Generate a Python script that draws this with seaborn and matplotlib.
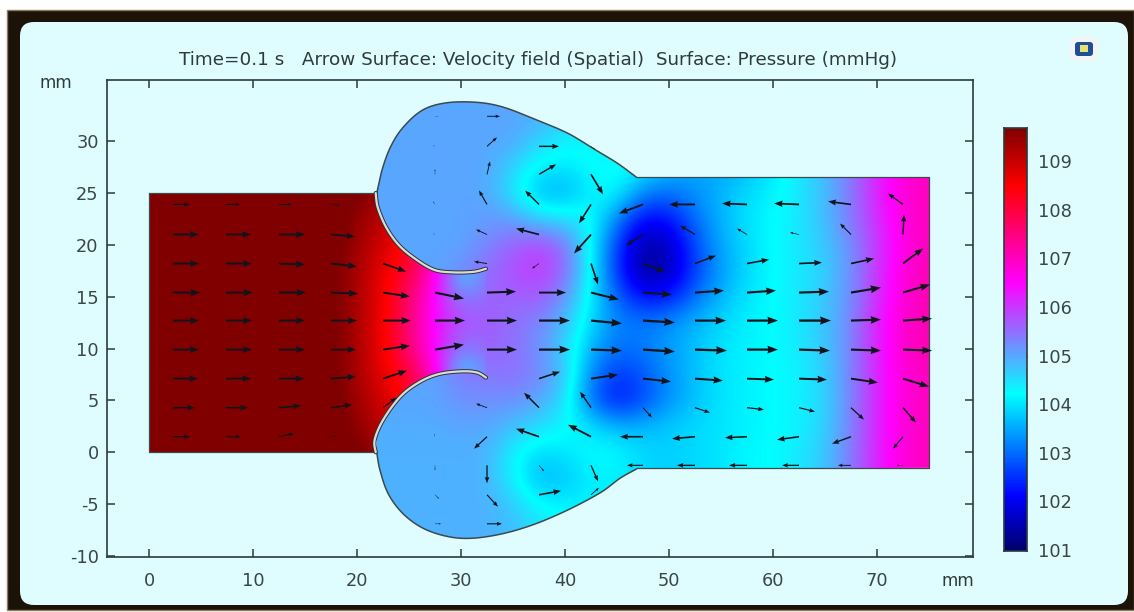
import numpy as np
import matplotlib
matplotlib.use('Agg')
import matplotlib.pyplot as plt
import seaborn as sns
from matplotlib.colors import LinearSegmentedColormap
from matplotlib.patches import FancyBboxPatch, PathPatch, Rectangle
from matplotlib.path import Path

nan = np.nan
W, H = 1134, 612

# pressure (mmHg), mm grid, top row first
inlet_x = np.arange(0, 35.1, 2.5)
inlet_y = np.arange(25, -0.1, -2.5)
inlet_p = [
    [109.9] * 8 + [109.8, 109.4, 108.9, 108.0, 107.0, 106.0, 105.5],
    [109.9] * 8 + [109.5, 109.1, 108.5, 107.5, 106.5, 105.8, 105.5],
    [109.9] * 8 + [109.4, 108.9, 108.3, 107.2, 106.0, 105.6, 105.6],
    [109.9] * 7 + [109.8, 109.3, 108.7, 108.1, 106.8, 104.2, 105.4, 105.8],
    [109.9] * 7 + [109.8, 109.3, 108.6, 107.7, 106.4, 105.3, 105.6, 105.6],
    [109.9] * 7 + [109.8, 109.3, 108.6, 107.6, 106.4, 105.8, 105.7, 105.5],
    [109.9] * 7 + [109.8, 109.3, 108.6, 107.6, 106.4, 105.4, 105.6, 105.5],
    [109.9] * 7 + [109.8, 109.3, 108.7, 108.1, 106.8, 104.2, 105.4, 105.5],
    [109.9] * 8 + [109.4, 108.9, 108.3, 107.2, 106.0, 105.2, 105.2],
    [109.9] * 8 + [109.5, 109.1, 108.5, 107.5, 106.5, 105.2, 105.0],
    [109.9] * 8 + [109.8, 109.4, 108.9, 108.0, 107.0, 105.5, 105.0],
]

main_x = np.arange(20, 75.1, 2.5)
main_y = np.arange(35, -10.1, -2.5)
main_p = [
    [105.0, 105.0, 105.0, 105.0, 105.0, 105.0, 105.0, 105.0, 104.9, 104.7, 104.5, 104.3, 104.0, 103.7, 103.6, 103.7, 104.0, 104.4, 104.8, 105.4, 106.2, 106.8, 107.0],
    [105.0, 105.0, 105.0, 105.0, 105.0, 105.0, 105.0, 104.95, 104.7, 104.5, 104.3, 104.2, 103.9, 103.7, 103.6, 103.7, 104.0, 104.4, 104.8, 105.4, 106.2, 106.8, 107.0],
    [105.0, 105.0, 105.0, 105.0, 105.0, 105.0, 105.0, 104.6, 104.3, 104.3, 104.2, 104.1, 103.8, 103.6, 103.5, 103.7, 104.0, 104.4, 104.8, 105.4, 106.2, 106.8, 107.0],
    [105.0, 105.0, 105.0, 105.0, 105.0, 105.0, 104.6, 104.1, 104.0, 104.2, 104.3, 104.1, 103.7, 103.5, 103.5, 103.7, 104.0, 104.4, 104.8, 105.4, 106.2, 106.8, 107.0],
    [105.0, 105.0, 105.0, 105.0, 105.0, 105.0, 104.4, 103.6, 103.5, 104.1, 104.2, 103.2, 103.0, 103.3, 103.6, 103.9, 104.1, 104.4, 104.8, 105.4, 106.2, 106.8, 107.0],
    [105.0, 105.0, 105.0, 105.0, 105.0, 105.1, 105.1, 104.6, 104.5, 104.3, 103.2, 102.1, 102.2, 103.0, 103.6, 104.0, 104.2, 104.4, 104.8, 105.4, 106.1, 106.8, 107.0],
    [105.0, 105.0, 105.0, 105.0, 105.0, 105.3, 105.6, 105.9, 105.5, 104.2, 102.6, 101.4, 101.6, 102.7, 103.5, 103.9, 104.2, 104.4, 104.7, 105.2, 106.0, 106.7, 107.0],
    [105.0, 105.0, 105.0, 105.0, 105.2, 105.5, 105.8, 106.0, 105.6, 104.2, 102.5, 101.3, 101.5, 102.6, 103.4, 103.9, 104.2, 104.4, 104.6, 105.2, 106.0, 106.8, 107.1],
    [105.0, 105.0, 105.0, 105.0, 105.4, 105.6, 105.6, 105.7, 105.2, 104.1, 102.9, 102.2, 102.3, 103.0, 103.6, 104.0, 104.2, 104.4, 104.7, 105.2, 106.1, 106.8, 107.1],
    [105.0, 105.0, 105.0, 105.0, 105.8, 105.7, 105.5, 105.3, 104.8, 103.9, 103.2, 103.1, 103.3, 103.6, 103.9, 104.1, 104.2, 104.4, 104.7, 105.3, 106.2, 106.9, 107.1],
    [105.0, 105.0, 105.0, 105.0, 105.5, 105.6, 105.5, 105.2, 104.6, 103.6, 103.0, 103.1, 103.4, 103.7, 104.0, 104.1, 104.2, 104.4, 104.7, 105.3, 106.2, 106.9, 107.1],
    [105.0, 105.0, 105.0, 105.0, 105.4, 105.4, 105.5, 105.3, 104.8, 103.2, 102.5, 102.8, 103.3, 103.7, 104.0, 104.1, 104.2, 104.3, 104.6, 105.3, 106.2, 106.8, 107.0],
    [105.0, 105.0, 105.0, 105.0, 105.2, 105.2, 105.2, 105.0, 104.5, 103.0, 102.2, 102.7, 103.3, 103.7, 104.0, 104.1, 104.2, 104.3, 104.6, 105.3, 106.2, 106.8, 107.0],
    [104.95, 104.95, 104.95, 104.95, 105.0, 105.0, 104.8, 104.5, 104.3, 104.0, 103.6, 103.6, 103.8, 103.9, 104.0, 104.1, 104.2, 104.3, 104.6, 105.3, 106.2, 106.8, 107.0],
    [104.9, 104.9, 104.9, 104.9, 104.9, 104.9, 104.3, 103.9, 104.0, 104.2, 104.2, 103.9, 103.8, 103.9, 104.0, 104.15, 104.2, 104.4, 104.7, 105.4, 106.2, 106.8, 107.0],
    [104.9, 104.9, 104.9, 104.9, 104.9, 104.9, 104.3, 103.6, 103.7, 104.1, 104.1, 103.9, 103.8, 103.9, 104.0, 104.15, 104.2, 104.4, 104.7, 105.4, 106.2, 106.8, 107.0],
    [104.9, 104.9, 104.9, 104.9, 104.9, 104.9, 104.7, 104.2, 104.1, 104.1, 104.0, 104.0, 104.0, 104.0, 104.0, 104.1, 104.2, 104.4, 104.7, 105.4, 106.2, 106.8, 107.0],
    [104.9, 104.9, 104.9, 104.9, 104.9, 104.9, 104.8, 104.5, 104.3, 104.2, 104.1, 104.0, 104.0, 104.0, 104.0, 104.1, 104.2, 104.4, 104.7, 105.4, 106.2, 106.8, 107.0],
    [104.9, 104.9, 104.9, 104.9, 104.9, 104.9, 104.8, 104.5, 104.3, 104.2, 104.1, 104.0, 104.0, 104.0, 104.0, 104.1, 104.2, 104.4, 104.7, 105.4, 106.2, 106.8, 107.0],
]

# velocity arrows: tails sit on this grid
arrow_x = [2.3, 7.4, 12.5, 17.5, 22.5, 27.5, 32.5, 37.5, 42.5, 47.5, 52.5, 57.5, 62.5, 67.5, 72.5]
arrow_y = [32.4, 29.5, 26.8, 23.9, 21.0, 18.2, 15.4, 12.7, 9.9, 7.1, 4.3, 1.5, -1.26, -4.1, -6.9]
arrow_u = [
    [nan, nan, nan, nan, nan, 3, 13, nan, nan, nan, nan, nan, nan, nan, nan],
    [nan, nan, nan, nan, nan, -2, 10, 20, 4, nan, nan, nan, nan, nan, nan],
    [nan, nan, nan, nan, nan, 0, 3, 17, 12, nan, nan, nan, nan, nan, nan],
    [17, 14, 13, 9, nan, -2, -8, -14, -12, -24, -26, -25, -25, -23, -15],
    [26, 25, 26, 24, nan, -2, -11, -23, -17, -17, -15, -10, -9, -11, 1],
    [26, 26, 26, 26, 23, nan, -13, -7, 7, 22, 21, 22, 23, 23, 20],
    [27, 27, 27, 27, 27, 29, 29, 27, 28, 29, 29, 29, 30, 30, 27],
    [26, 26, 26, 26, 28, 30, 30, 31, 31, 32, 31, 31, 32, 30, 29],
    [26, 26, 26, 25, 27, 29, 30, 31, 31, 32, 32, 31, 31, 30, 29],
    [25, 25, 25, 25, 24, nan, nan, 21, 27, 28, 28, 27, 28, 27, 26],
    [22, 22, 22, 21, 13, 0, -11, -15, -11, 9, 15, 17, 16, 13, 13],
    [17, 15, 15, 6, nan, -1, -13, -23, -23, -23, -23, -22, -22, -19, -10],
    [nan, nan, nan, nan, nan, 0, 0, 5, 7, -16, -18, -18, -17, -13, -6],
    [nan, nan, nan, nan, nan, 4, 11, 22, 8, nan, nan, nan, nan, nan, nan],
    [nan, nan, nan, nan, nan, 6, 15, nan, nan, nan, nan, nan, nan, nan, nan],
]
arrow_v = [
    [nan, nan, nan, nan, nan, 0, 0, nan, nan, nan, nan, nan, nan, nan, nan],
    [nan, nan, nan, nan, nan, 1, 9, 0, -3, nan, nan, nan, nan, nan, nan],
    [nan, nan, nan, nan, nan, 5, 13, 10, -20, nan, nan, nan, nan, nan, nan],
    [0, 0, 0, -1, nan, 3, 14, 14, -19, -9, 0, 1, 1, 3, 11],
    [0, 0, 0, -2, nan, 1, 5, 6, -19, -11, 9, 6, 2, 11, 20],
    [0, 0, -1, -3, -8, nan, 2, -5, -21, -8, 8, 4, 1, 5, 15],
    [0, 0, 0, -1, -4, -6, 1, 0, -7, -2, 2, 2, 1, 5, 8],
    [0, 0, 0, 0, 0, 0, 0, 0, -3, -2, 0, 0, 0, 1, 2],
    [0, 0, 0, 0, 4, 5, 0, 0, -1, -2, -1, 0, -1, -1, -1],
    [0, 0, 0, 2, 8, nan, nan, 7, 4, -3, -2, -1, -1, -4, -8],
    [0, 0, 2, 3, 10, 1, 4, 15, 16, -10, -5, -2, -4, -12, -15],
    [0, 0, 3, 1, nan, 3, -12, 8, 12, 0, -2, -1, -3, -7, -12],
    [nan, nan, nan, nan, nan, -5, -18, -6, -16, 0, 0, 0, 0, 0, 0],
    [nan, nan, nan, nan, nan, -4, -12, 4, 7, nan, nan, nan, nan, nan, nan],
    [nan, nan, nan, nan, nan, 0, 0, nan, nan, nan, nan, nan, nan, nan, nan],
]

# geometry outline in mm
top_wall_x = [21.9, 22.4, 23.2, 24.4, 26.3, 28.6, 31.5, 34.0, 36.9, 40.2, 42.7, 45.0, 46.9]
top_wall_y = [25.0, 27.2, 29.4, 31.3, 33.0, 33.7, 33.75, 33.3, 32.2, 30.8, 29.3, 27.9, 26.5]
low_wall_x = [21.9, 22.2, 23.0, 24.4, 26.3, 28.6, 30.9, 33.8, 36.9, 40.2, 43.4, 45.3, 46.9]
low_wall_y = [0.0, -1.7, -4.0, -5.9, -7.3, -8.1, -8.3, -7.9, -7.0, -5.6, -3.9, -2.5, -1.6]
top_leaf_x = [21.8, 22.0, 22.8, 24.0, 25.6, 27.4, 29.2, 31.2, 32.4]
top_leaf_y = [25.0, 23.6, 21.7, 20.0, 18.65, 17.6, 17.35, 17.4, 17.7]
low_leaf_x = [21.8, 21.7, 22.5, 24.1, 25.8, 27.7, 29.9, 31.5, 32.4]
low_leaf_y = [0.0, 1.2, 3.1, 5.3, 6.65, 7.5, 7.8, 7.7, 7.2]

x_ticks = [0, 10, 20, 30, 40, 50, 60, 70]
y_ticks = [-10, -5, 0, 5, 10, 15, 20, 25, 30]
bar_ticks = [101, 102, 103, 104, 105, 106, 107, 108, 109]
p_min, p_max = 100.98, 109.68
cmap_stops = [(100.98, '#00006e'), (102.1, '#0000ff'), (104.2, '#00ffff'),
              (106.5, '#ff00ff'), (108.5, '#ff0000'), (109.68, '#800000')]


def smooth(xs, ys, n=12):
    # catmull-rom through the outline points, only to round the wall
    pts = np.column_stack([xs, ys])
    pts = np.vstack([pts[0], pts, pts[-1]])
    out = []
    for i in range(1, len(pts) - 2):
        p0, p1, p2, p3 = pts[i - 1], pts[i], pts[i + 1], pts[i + 2]
        for t in np.linspace(0, 1, n, endpoint=False):
            out.append(0.5 * (2 * p1 + (p2 - p0) * t + (2 * p0 - 5 * p1 + 4 * p2 - p3) * t ** 2
                              + (3 * p1 - p0 - 3 * p2 + p3) * t ** 3))
    out.append(pts[-1])
    return np.array(out)


sns.set_theme(style='ticks')
plt.rcParams['font.family'] = 'DejaVu Sans'
plt.rcParams['axes.unicode_minus'] = False
ink = '#2b3a3c'

cmap = LinearSegmentedColormap.from_list(
    'comsol', [((v - p_min) / (p_max - p_min), c) for v, c in cmap_stops], N=512)

fig = plt.figure(figsize=(W / 100, H / 100), dpi=100, facecolor='white')

# screenshot frame
bg = fig.add_axes([0, 0, 1, 1])
bg.set_xlim(0, W)
bg.set_ylim(H, 0)
bg.axis('off')
bg.add_patch(Rectangle((7, 10), W - 7, H - 12, fc='#1c1208', ec='#8d7a60', lw=1))
bg.add_patch(FancyBboxPatch((32, 34), 1084, 559, boxstyle='round,pad=12,rounding_size=14', fc='#dffdff', ec='none'))
# window icon
bg.add_patch(FancyBboxPatch((1074, 41), 20, 16, boxstyle='round,pad=4,rounding_size=6', fc='#f2f4f6', ec='none'))
bg.add_patch(FancyBboxPatch((1077, 44), 14, 10, boxstyle='round,pad=2,rounding_size=3', fc='#1d4f96', ec='none'))
bg.add_patch(Rectangle((1080, 45), 8, 7, fc='#e8e070', ec='none'))

ax = fig.add_axes([107 / W, 1 - 557 / H, 866 / W, 477 / H], facecolor='none')
xlim = (-4.04, 79.23)
ylim = (-10.1, 35.9)

top_wall = smooth(top_wall_x, top_wall_y)
low_wall = smooth(low_wall_x, low_wall_y)
top_leaf = smooth(top_leaf_x, top_leaf_y)
low_leaf = smooth(low_leaf_x, low_leaf_y)

main_poly = np.vstack([top_wall, [[75, 26.5], [75, -1.5]], low_wall[::-1]])
inlet_poly = np.vstack([[[0, 0]], low_leaf, top_leaf[::-1], [[0, 25]]])

for px, py, field, poly in [(main_x, main_y, main_p, main_poly), (inlet_x, inlet_y, inlet_p, inlet_poly)]:
    clip = PathPatch(Path(poly, closed=False), fc='none', ec='none', transform=ax.transData)
    ax.add_patch(clip)
    im = ax.imshow(field, cmap=cmap, vmin=p_min, vmax=p_max, interpolation='bicubic', aspect='auto', origin='upper',
                   extent=(px[0] - 1.25, px[-1] + 1.25, py[-1] - 1.25, py[0] + 1.25), zorder=1)
    im.set_clip_path(clip)

# walls
edge = '#3d4a4a'
for pts in [top_wall, low_wall]:
    sns.lineplot(x=pts[:, 0], y=pts[:, 1], sort=False, estimator=None, color=edge, lw=1.1, ax=ax, zorder=3)
for xs, ys in [([21.8, 0, 0, 21.8], [25, 25, 0, 0]),
               ([46.9, 75, 75, 46.9], [26.5, 26.5, -1.5, -1.5])]:
    sns.lineplot(x=xs, y=ys, sort=False, estimator=None, color=edge, lw=0.9, ax=ax, zorder=3)
# leaflets
for pts in [top_leaf, low_leaf]:
    sns.lineplot(x=pts[:, 0], y=pts[:, 1], sort=False, estimator=None, color='#2e3434', lw=3.0, ax=ax, zorder=4)
    sns.lineplot(x=pts[:, 0], y=pts[:, 1], sort=False, estimator=None, color='#dcdcd6', lw=1.6, ax=ax, zorder=5)

# arrows, every one scales with its length like in the solver plot
gx, gy = np.meshgrid(arrow_x, arrow_y)
u = np.array(arrow_u, dtype=float)
v = np.array(arrow_v, dtype=float)
keep = ~np.isnan(u)
ax.quiver(gx[keep], gy[keep], u[keep], v[keep], angles='xy', scale_units='xy', scale=10.4, units='dots',
          width=2.4, headwidth=3.6, headlength=4.8, headaxislength=4.4, minshaft=2.9, minlength=0,
          color='#10141c', zorder=6)

ax.set_xlim(*xlim)
ax.set_ylim(*ylim)
ax.set_xticks(x_ticks)
ax.set_yticks(y_ticks)
ax.tick_params(direction='in', length=6, width=1.1, color=ink, top=True, right=True, labelsize=12.8, labelcolor='#3a4648')
ax.tick_params(axis='x', pad=11)
ax.tick_params(axis='y', pad=6)
ax.set_xlabel('')
ax.set_ylabel('')
for s in ax.spines.values():
    s.set_color(ink)
    s.set_linewidth(1.2)

fig.text(538 / W, 1 - 60 / H, 'Time=0.1 s   Arrow Surface: Velocity field (Spatial)  Surface: Pressure (mmHg)',
         ha='center', va='center', fontsize=13.2, color='#2f3a3c')
fig.text(56 / W, 1 - 83 / H, 'mm', ha='center', va='center', fontsize=12.2, color='#2f3a3c')
fig.text(958 / W, 1 - 581 / H, 'mm', ha='center', va='center', fontsize=12.2, color='#2f3a3c')

# colour bar
cax = fig.add_axes([1004 / W, 1 - 551 / H, 23 / W, 423 / H])
levels = np.linspace(p_max, p_min, 256).reshape(-1, 1)
sns.heatmap(levels, cmap=cmap, vmin=p_min, vmax=p_max, cbar=False, ax=cax, xticklabels=False, rasterized=True)
cax.set_yticks([(p_max - t) / (p_max - p_min) * 256 for t in bar_ticks])
cax.set_yticklabels([str(t) for t in bar_ticks], rotation=0)
cax.yaxis.tick_right()
cax.tick_params(axis='y', direction='in', length=3, width=1, color=ink, left=True, right=True, labelsize=12.8, labelcolor='#3a4648', pad=8)
for s in cax.spines.values():
    s.set_visible(True)
    s.set_color(ink)
    s.set_linewidth(1.2)

fig.savefig('out.png', dpi=100)
